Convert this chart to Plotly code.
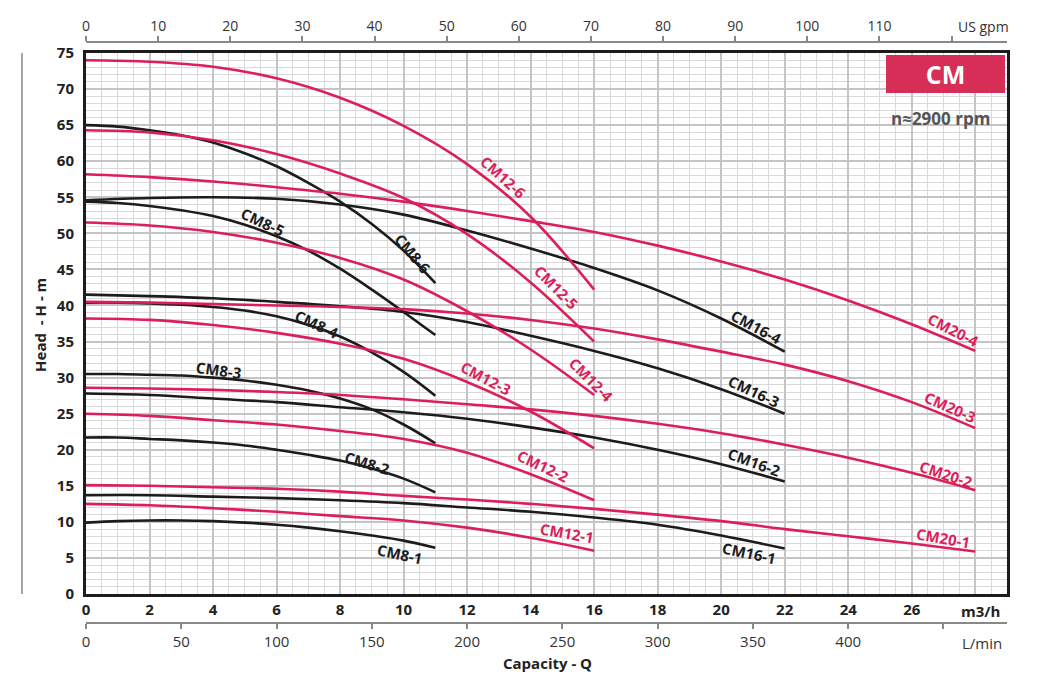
import plotly.graph_objects as go

# pump curves CM series, n=2900 rpm
# capacity in m3/h, head in m

RED = "#dc1f5a"
BLACK = "#1c1c1c"
FONT = "Open Sans"

q8 = [0, 1, 2, 3, 4, 5, 6, 7, 8, 9, 10, 11]
cm8_6 = [65.0, 64.8, 64.3, 63.6, 62.6, 61.1, 59.3, 57.0, 54.4, 51.3, 47.6, 43.1]
cm8_5 = [54.4, 54.2, 53.8, 53.2, 52.4, 51.2, 49.6, 47.6, 45.1, 42.2, 39.1, 35.9]
cm8_4 = [40.4, 40.4, 40.3, 40.1, 39.8, 39.3, 38.5, 37.3, 35.7, 33.5, 30.8, 27.5]
cm8_3 = [30.5, 30.5, 30.4, 30.3, 30.0, 29.6, 29.0, 28.2, 27.1, 25.6, 23.5, 20.9]
cm8_2 = [21.7, 21.7, 21.5, 21.3, 21.0, 20.6, 20.0, 19.3, 18.5, 17.4, 16.0, 14.1]
cm8_1 = [9.9, 10.1, 10.2, 10.2, 10.1, 9.9, 9.6, 9.2, 8.7, 8.1, 7.4, 6.4]

q12 = [0, 2, 4, 6, 8, 10, 12, 14, 16]
cm12_6 = [74.0, 73.8, 73.1, 71.5, 68.8, 64.9, 59.6, 52.3, 42.2]
cm12_5 = [64.3, 64.0, 62.9, 61.0, 58.3, 54.9, 49.9, 43.2, 35.0]
cm12_4 = [51.5, 51.1, 50.2, 48.7, 46.6, 43.6, 39.2, 33.9, 27.6]
cm12_3 = [38.2, 38.0, 37.3, 36.2, 34.7, 32.6, 29.4, 25.3, 20.2]
cm12_2 = [25.0, 24.7, 24.1, 23.5, 22.6, 21.5, 19.6, 16.6, 13.0]
cm12_1 = [12.5, 12.3, 11.9, 11.4, 10.8, 10.2, 9.2, 7.8, 6.0]

q16 = [0, 2, 4, 6, 8, 10, 12, 14, 16, 18, 20, 22]
cm16_4 = [54.6, 54.9, 55.0, 54.8, 54.0, 52.6, 50.4, 47.9, 45.2, 42.1, 38.2, 33.6]
cm16_3 = [41.5, 41.3, 41.0, 40.5, 39.9, 39.1, 37.7, 35.8, 33.7, 31.3, 28.4, 25.0]
cm16_2 = [27.8, 27.6, 27.1, 26.6, 25.9, 25.2, 24.3, 23.1, 21.7, 20.0, 18.0, 15.6]
cm16_1 = [13.7, 13.7, 13.5, 13.3, 13.0, 12.6, 12.0, 11.4, 10.6, 9.6, 8.1, 6.3]

q20 = [0, 2, 4, 6, 8, 10, 12, 14, 16, 18, 20, 22, 24, 26, 28]
cm20_4 = [58.2, 57.8, 57.2, 56.4, 55.5, 54.4, 53.1, 51.7, 50.2, 48.3, 46.1, 43.6, 40.7, 37.4, 33.7]
cm20_3 = [40.5, 40.4, 40.2, 40.0, 39.8, 39.5, 38.9, 38.0, 36.8, 35.3, 33.6, 31.8, 29.5, 26.6, 23.0]
cm20_2 = [28.6, 28.5, 28.3, 28.0, 27.6, 27.0, 26.3, 25.6, 24.7, 23.6, 22.3, 20.7, 18.9, 16.8, 14.4]
cm20_1 = [15.1, 15.0, 14.8, 14.6, 14.2, 13.6, 13.1, 12.5, 11.8, 11.0, 10.1, 9.0, 8.0, 7.0, 5.9]

# curve labels: text, Q, H, angle
labels = [
    ("CM8-6", 10.31, 47.2, 50), ("CM8-5", 5.58, 51.6, 25), ("CM8-4", 7.27, 37.5, 25),
    ("CM8-3", 4.2, 31.1, 8), ("CM8-2", 8.86, 18.1, 17), ("CM8-1", 9.89, 5.5, 12),
    ("CM12-6", 13.14, 57.8, 42), ("CM12-5", 14.8, 42.5, 45), ("CM12-4", 15.93, 29.7, 45),
    ("CM12-3", 12.59, 30.0, 28), ("CM12-2", 14.4, 17.8, 25), ("CM12-1", 15.15, 8.5, 10),
    ("CM16-4", 21.12, 37.0, 28), ("CM16-3", 21.02, 28.2, 25), ("CM16-2", 21.04, 18.3, 20),
    ("CM16-1", 20.89, 5.7, 12),
    ("CM20-4", 27.32, 36.6, 27), ("CM20-3", 27.21, 25.9, 24), ("CM20-2", 27.08, 16.7, 18),
    ("CM20-1", 27.0, 7.7, 10),
]

q_ticks = list(range(0, 30, 2))
gpm_ticks = list(range(0, 130, 10))
lmin_ticks = list(range(0, 500, 50))
head_ticks = list(range(0, 80, 5))

GPM = 4.40287   # US gpm per m3/h
LMIN = 16.6667  # L/min per m3/h
QMAX = 29.0

fig = go.Figure()

curves = [
    (q8, cm8_6, BLACK), (q8, cm8_5, BLACK), (q8, cm8_4, BLACK),
    (q8, cm8_3, BLACK), (q8, cm8_2, BLACK), (q8, cm8_1, BLACK),
    (q16, cm16_4, BLACK), (q16, cm16_3, BLACK), (q16, cm16_2, BLACK), (q16, cm16_1, BLACK),
    (q12, cm12_6, RED), (q12, cm12_5, RED), (q12, cm12_4, RED),
    (q12, cm12_3, RED), (q12, cm12_2, RED), (q12, cm12_1, RED),
    (q20, cm20_4, RED), (q20, cm20_3, RED), (q20, cm20_2, RED), (q20, cm20_1, RED),
]
for q, h, c in curves:
    fig.add_trace(go.Scatter(x=q, y=h, mode="lines",
                             line=dict(color=c, width=2.6, shape="spline", smoothing=1.0),
                             showlegend=False, hoverinfo="skip"))

# dummy traces so the extra axes get drawn
fig.add_trace(go.Scatter(x=[0], y=[0], xaxis="x2", mode="markers",
                         marker=dict(opacity=0), showlegend=False, hoverinfo="skip"))
fig.add_trace(go.Scatter(x=[0], y=[0], xaxis="x3", mode="markers",
                         marker=dict(opacity=0), showlegend=False, hoverinfo="skip"))

ann = []
for txt, qx, hy, ang in labels:
    col = RED if txt.startswith("CM12") or txt.startswith("CM20") else BLACK
    ann.append(dict(x=qx, y=hy, xref="x", yref="y", text="<b>" + txt + "</b>",
                    showarrow=False, textangle=ang,
                    font=dict(family=FONT, size=15, color=col)))

def note(x, y, text, size, color, angle=0):
    return dict(x=x, y=y, xref="paper", yref="paper", text=text, showarrow=False,
                xanchor="center", yanchor="middle", textangle=angle,
                font=dict(family=FONT, size=size, color=color))

ann += [
    dict(x=0.8686, y=0.978, xref="paper", yref="paper", xanchor="left", yanchor="top",
         text="<b>CM</b>", showarrow=False, width=119, height=38, bgcolor="#d72e57",
         borderpad=0, borderwidth=0, font=dict(family=FONT, size=25, color="white")),
    note(0.928, 0.869, "<b>n≈2900 rpm</b>", 17, "#555555"),
    note(0.9707, 0.0207, "<b>m3/h</b>", 15, "#222222"),
    note(0.974, 1.026, "US gpm", 14, "#333333"),
    note(0.973, -0.035, "L/min", 15, "#333333"),
    note(0.5016, -0.069, "<b>Capacity - Q</b>", 15, "#222222"),
    note(-0.05, 0.513, "<b>Head  - H - m</b>", 15, "#222222", -90),
]

shapes = [
    dict(type="line", xref="paper", yref="paper", x0=-0.0695, x1=-0.0695, y0=0.05, y1=0.981,
         line=dict(color="#888888", width=1.5)),
]

# page body has an 8px margin, so margins are trimmed by 8px on the left/top
fig.update_layout(
    width=1050, height=675,
    margin=dict(l=78, r=51, t=34, b=60),
    paper_bgcolor="white", plot_bgcolor="white",
    font=dict(family=FONT, color="#222222"),
    annotations=ann, shapes=shapes,
    xaxis=dict(range=[0, QMAX], tickmode="array", tickvals=q_ticks,
               ticktext=[str(v) for v in q_ticks[:-1]] + [""],
               tickfont=dict(family=FONT, size=15, color="#222222", weight="bold"),
               showgrid=True, gridcolor="#c4c4c4", gridwidth=2,
               minor=dict(dtick=0.5, tick0=0, showgrid=True, gridcolor="#d9d9d9", gridwidth=1),
               showline=True, linecolor=BLACK, linewidth=3, mirror=True,
               ticks="", zeroline=False, automargin=False),
    yaxis=dict(range=[0, 75], domain=[0.0499, 0.981], tickmode="array", tickvals=head_ticks,
               tickfont=dict(family=FONT, size=15, color="#222222", weight="bold"),
               showgrid=True, gridcolor="#c4c4c4", gridwidth=2,
               minor=dict(dtick=1, tick0=0, showgrid=True, gridcolor="#d9d9d9", gridwidth=1),
               showline=True, linecolor=BLACK, linewidth=3, mirror=True,
               ticks="outside", ticklen=6, tickcolor="rgba(0,0,0,0)",
               zeroline=False, automargin=False),
    xaxis2=dict(range=[0, QMAX * GPM], overlaying="x", side="top", anchor="free", position=1,
                tickmode="array", tickvals=gpm_ticks,
                ticktext=[str(v) for v in gpm_ticks[:-1]] + [""],
                tickfont=dict(family=FONT, size=14, color="#333333"),
                ticks="outside", ticklen=5, tickcolor="#888888", tickwidth=1.5,
                showline=True, linecolor="#888888", linewidth=1.5,
                showgrid=False, zeroline=False, automargin=False),
    xaxis3=dict(range=[0, QMAX * LMIN], overlaying="x", side="bottom", anchor="free", position=0,
                tickmode="array", tickvals=lmin_ticks,
                ticktext=[str(v) for v in lmin_ticks[:-1]] + [""],
                tickfont=dict(family=FONT, size=15, color="#333333"),
                ticks="outside", ticklen=5, tickcolor="#888888", tickwidth=1.5,
                showline=True, linecolor="#888888", linewidth=1.5,
                showgrid=False, zeroline=False, automargin=False),
)

fig.write_html("out.html")
